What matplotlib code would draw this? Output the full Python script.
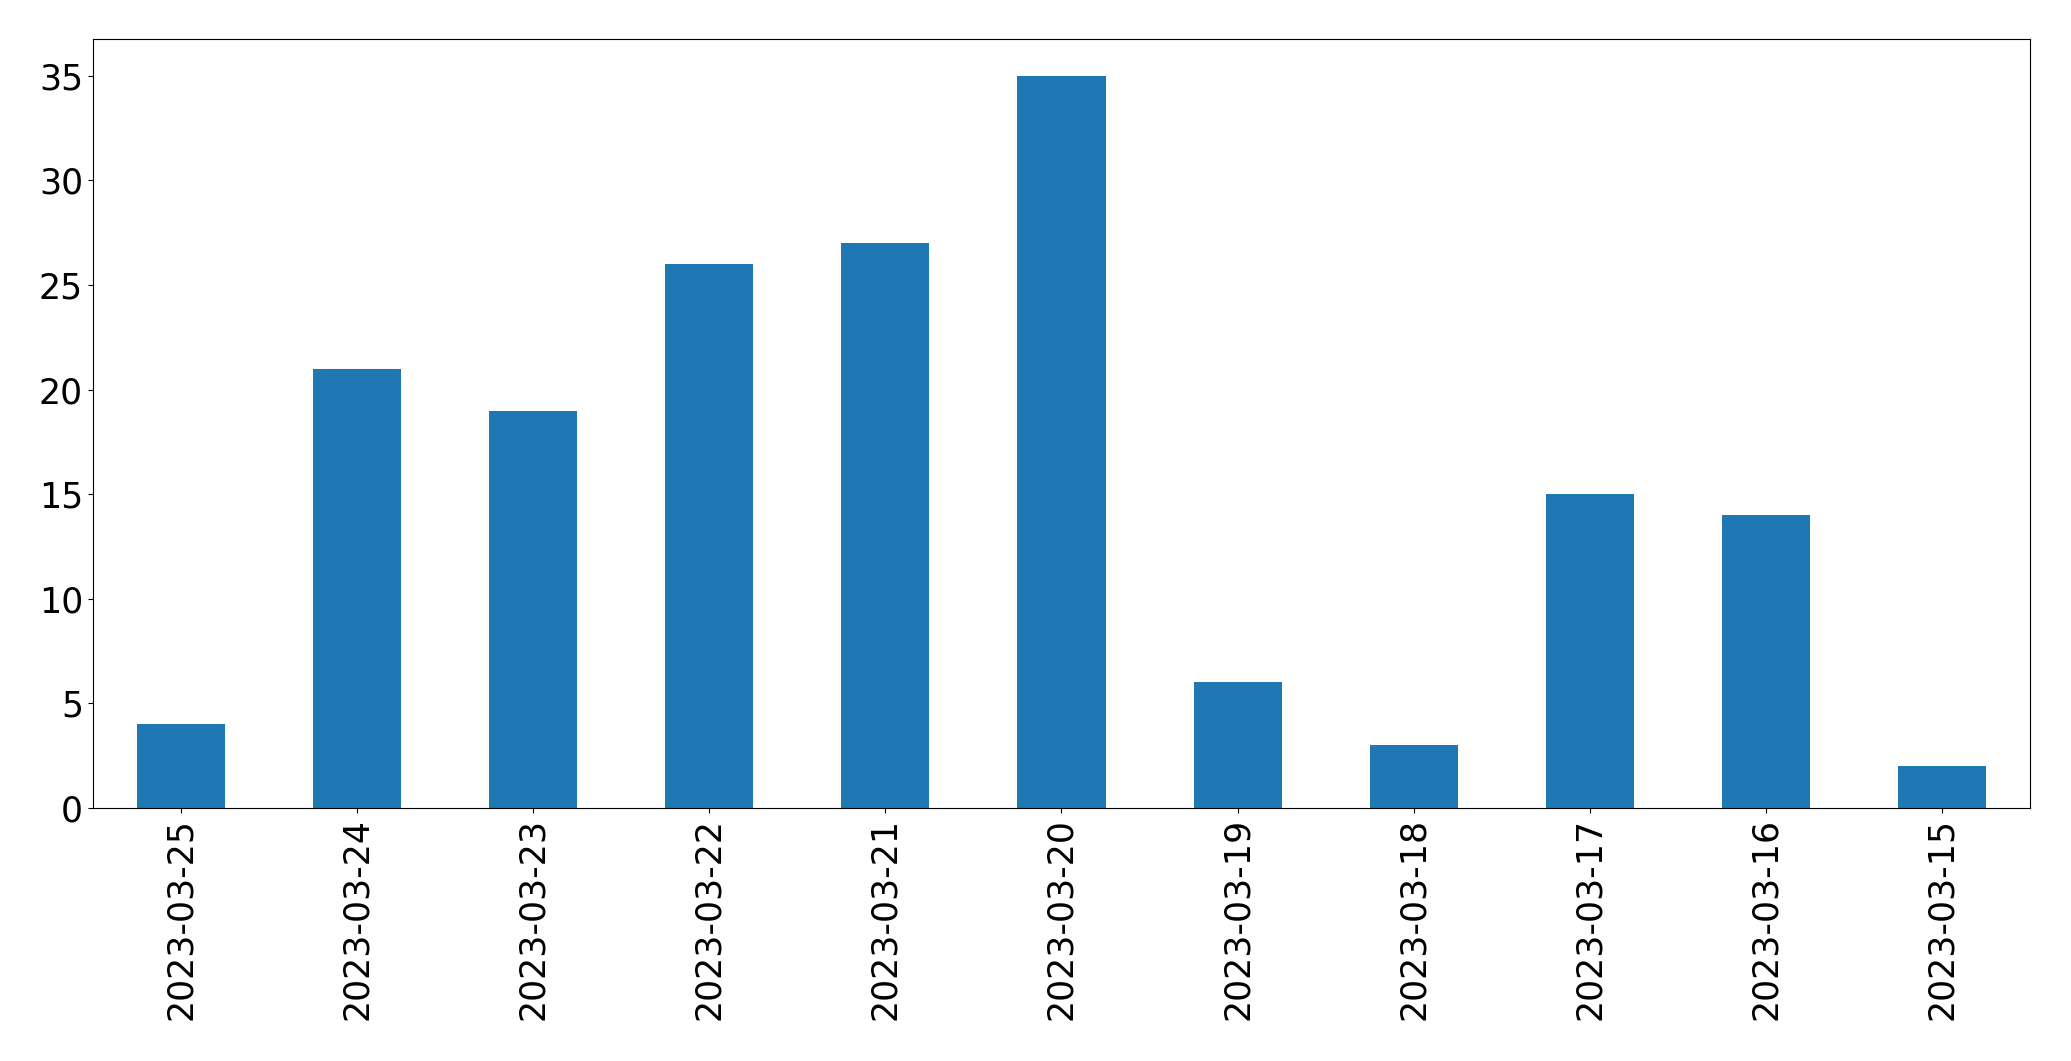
import matplotlib
matplotlib.use("Agg")
import matplotlib.pyplot as plt
import pandas as pd

dates = ["2023-03-25", "2023-03-24", "2023-03-23", "2023-03-22", "2023-03-21",
         "2023-03-20", "2023-03-19", "2023-03-18", "2023-03-17", "2023-03-16", "2023-03-15"]
counts = [4, 21, 19, 26, 27, 35, 6, 3, 15, 14, 2]

fig = plt.figure(figsize=(20.71, 10.61), dpi=100)
ax = fig.add_axes([0.0448, 0.2385, 0.9355, 0.7245])
s = pd.Series(counts, index=dates)
s.plot(kind="bar", ax=ax, color="#1f77b4")
ax.tick_params(axis="both", labelsize=25)
fig.savefig("out.png", dpi=100)
